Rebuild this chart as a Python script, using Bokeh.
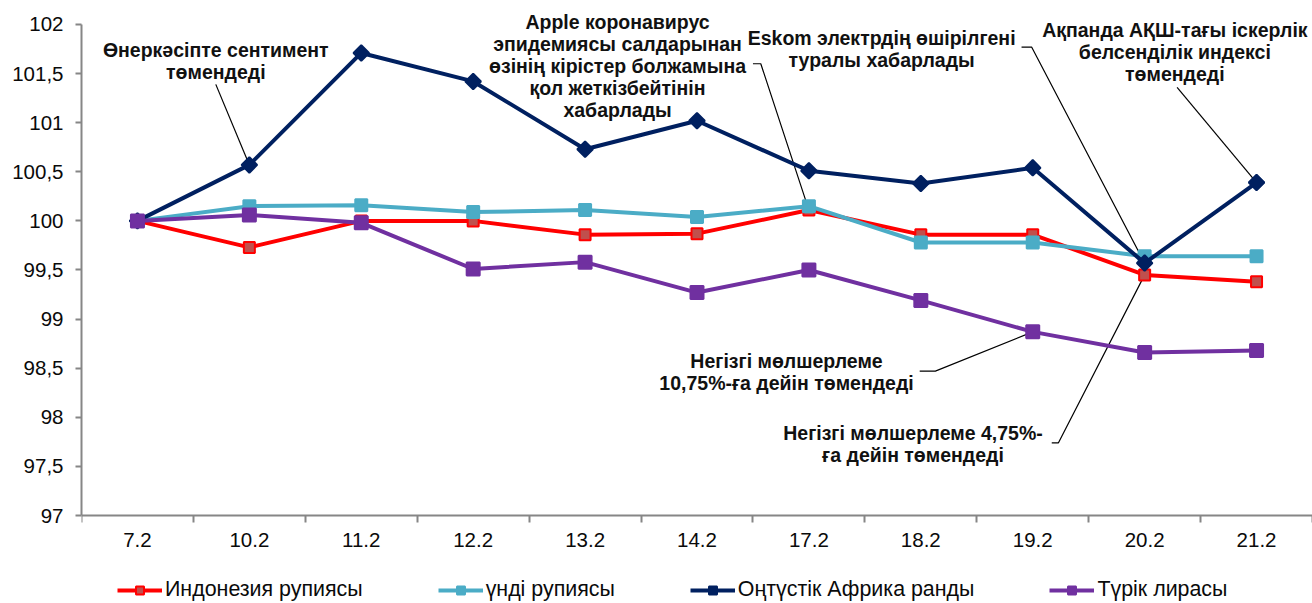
from bokeh.plotting import figure
from bokeh.models import FixedTicker, CustomJSTickFormatter, Label, Legend, LegendItem, Range1d
from bokeh.embed import file_html
from bokeh.resources import INLINE

# ---------------- data ----------------
dates = ["7.2", "10.2", "11.2", "12.2", "13.2", "14.2", "17.2", "18.2", "19.2", "20.2", "21.2"]
idr = [100.0, 99.73, 100.0, 100.0, 99.86, 99.87, 100.11, 99.86, 99.86, 99.45, 99.38]
inr = [100.0, 100.15, 100.16, 100.09, 100.11, 100.04, 100.15, 99.78, 99.78, 99.64, 99.64]
zar = [100.0, 100.57, 101.71, 101.42, 100.73, 101.02, 100.51, 100.38, 100.54, 99.57, 100.39]
tryl = [100.0, 100.06, 99.98, 99.51, 99.58, 99.27, 99.50, 99.19, 98.87, 98.66, 98.68]
series_names = ["Индонезия рупиясы", "үнді рупиясы", "Оңтүстік Африка ранды", "Түрік лирасы"]
y_ticks = [97, 97.5, 98, 98.5, 99, 99.5, 100, 100.5, 101, 101.5, 102]

# annotations: text, centre (x in category units, y in index units)
ann_texts = [
    "Өнеркәсіпте сентимент\nтөмендеді",
    "Apple коронавирус\nэпидемиясы салдарынан\nөзінің кірістер болжамына\nқол жеткізбейтінін\nхабарлады",
    "Eskom электрдің өшірілгені\nтуралы хабарлады",
    "Ақпанда АҚШ-тағы іскерлік\nбелсенділік индексі\nтөмендеді",
    "Негізгі мөлшерлеме\n10,75%-ға дейін төмендеді",
    "Негізгі мөлшерлеме 4,75%-\nға дейін төмендеді",
]
ann_x = [1.20, 4.79, 7.15, 9.77, 6.30, 7.43]
ann_y = [101.63, 101.58, 101.75, 101.72, 98.46, 97.73]
# leader lines: stub start/end x, stub y, target date index, target series
lead_x0 = [1.20, 6.00, 8.40, 9.79, 7.49, 8.67]
lead_x1 = [1.20, 6.07, 8.49, 9.79, 7.63, 8.73]
lead_y = [101.39, 101.60, 101.77, 101.36, 98.47, 97.74]
lead_idx = [1, 6, 9, 10, 8, 9]
lead_series = ["zar", "idr", "zar", "zar", "tryl", "idr"]

series_vals = {"idr": idr, "inr": inr, "zar": zar, "tryl": tryl}
xpos = [i + 0.5 for i in range(len(dates))]

FONT = "Liberation Sans"

# frame covers the whole canvas height; the x axis sits at y = 97, the y axis line is bounded to 97..102
p = figure(width=1312, height=603,
           x_range=Range1d(0, len(dates)), y_range=Range1d(96.104, 102.244),
           output_backend="svg", toolbar_location=None,
           min_border_left=81, min_border_right=0, min_border_top=0, min_border_bottom=0)
p.outline_line_color = None
p.xgrid.visible = False
p.ygrid.visible = False
p.background_fill_color = "white"

# x axis
xa = p.xaxis[0]
xa.fixed_location = 97
xa.ticker = FixedTicker(ticks=xpos, minor_ticks=list(range(len(dates) + 1)))
xa.formatter = CustomJSTickFormatter(args=dict(labels=dates), code="return labels[Math.floor(tick)];")
xa.major_tick_out = 0
xa.major_tick_in = 0
xa.minor_tick_out = 7
xa.minor_tick_in = 0
xa.minor_tick_line_color = "#868686"
xa.minor_tick_line_width = 2
xa.axis_line_color = "#868686"
xa.axis_line_width = 2
xa.major_label_standoff = 10
xa.major_label_text_font = FONT
xa.major_label_text_font_size = "20.5px"
xa.major_label_text_color = "#0a0a0a"

# y axis
ya = p.yaxis[0]
ya.ticker = FixedTicker(ticks=y_ticks)
ya.formatter = CustomJSTickFormatter(code="return String(tick).replace('.', ',');")
ya.bounds = (97, 102)
ya.major_tick_out = 6
ya.major_tick_in = 0
ya.minor_tick_out = 0
ya.minor_tick_in = 0
ya.major_tick_line_color = "#868686"
ya.major_tick_line_width = 2
ya.axis_line_color = "#868686"
ya.axis_line_width = 2
ya.major_label_standoff = 12
ya.major_label_text_font = FONT
ya.major_label_text_font_size = "20.5px"
ya.major_label_text_color = "#0a0a0a"

# leader lines
lxs, lys = [], []
for x0, x1, y, idx, s in zip(lead_x0, lead_x1, lead_y, lead_idx, lead_series):
    lxs.append([x0, x1, xpos[idx]])
    lys.append([y, y, series_vals[s][idx]])
p.multi_line(lxs, lys, line_color="black", line_width=1.2)

# series
styles = [
    (idr, "#FF0000", "square", 11, "#C0504D", "#FF0000", 0.0),
    (inr, "#4BACC6", "square", 12, "#4BACC6", "#4BACC6", 0.0),
    (zar, "#002060", "square", 11, "#002060", "#002060", 0.785),
    (tryl, "#7030A0", "square", 13, "#7030A0", "#7030A0", 0.0),
]
items = []
for name, (vals, col, mk, sz, fc, lc, ang) in zip(series_names, styles):
    r1 = p.line(xpos, vals, line_color=col, line_width=4)
    r2 = p.scatter(xpos, vals, marker=mk, size=sz, fill_color=fc, line_color=lc,
                   line_width=2, angle=ang)
    items.append(LegendItem(label=name, renderers=[r1, r2]))

legend = Legend(items=items, location=(36, 1), orientation="horizontal",
                spacing=75, glyph_width=45, glyph_height=20, label_standoff=3,
                label_text_font=FONT, label_text_font_size="21.4px", label_text_color="#0a0a0a",
                border_line_alpha=0, background_fill_alpha=0, padding=0, margin=0)
p.add_layout(legend)

for t, x, y in zip(ann_texts, ann_x, ann_y):
    p.add_layout(Label(x=x, y=y, text=t, text_align="center", text_baseline="middle",
                       text_font=FONT, text_font_size="19.5px", text_font_style="bold",
                       text_color="#111111", text_line_height=1.0))

open("out.html", "w").write(file_html(p, INLINE))
